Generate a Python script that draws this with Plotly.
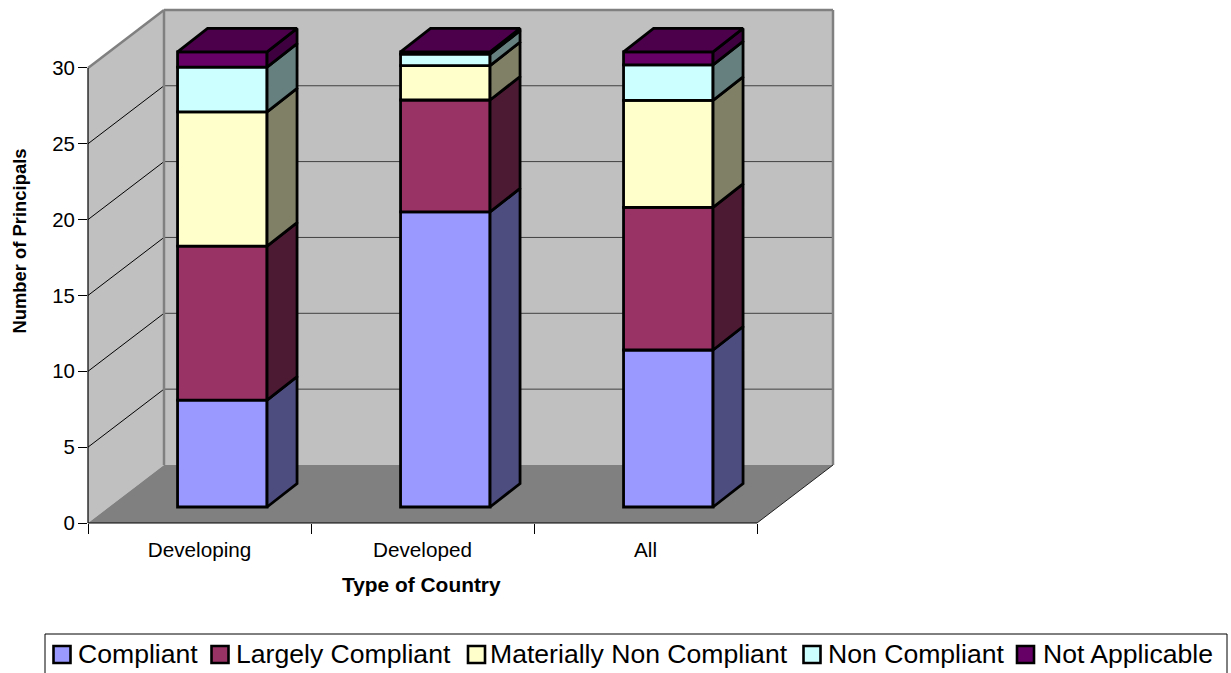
import plotly.graph_objects as go

# ---- data ----
categories = ["Developing", "Developed", "All"]
compliant = [7.05, 19.45, 10.35]
largely_compliant = [10.15, 7.38, 9.4]
materially_non_compliant = [8.85, 2.27, 7.05]
non_compliant = [2.95, 0.75, 2.35]
not_applicable = [1.0, 0.15, 0.85]
y_ticks = [0, 5, 10, 15, 20, 25, 30]

series_names = ["Compliant", "Largely Compliant", "Materially Non Compliant", "Non Compliant", "Not Applicable"]
series_values = [compliant, largely_compliant, materially_non_compliant, non_compliant, not_applicable]
front_colors = ["#9999FF", "#993366", "#FFFFCC", "#CCFFFF", "#660066"]
side_colors = ["#4D4D80", "#4D1A33", "#808066", "#668080", "#3F003F"]
top_color = "#4C004C"

# ---- geometry ----
W, H = 1231, 673
L, R, T, B = 88, 833, 10, 523     # plot box in pixels
UNIT_Y = 15.17                    # pixels per value unit
UNIT_X = 223.0                    # pixels per category
X0 = -0.5
x_range = [X0, X0 + (R - L) / UNIT_X]
y_range = [0, (B - T) / UNIT_Y]
WALL_DX, WALL_DY = 76 / UNIT_X, 58 / UNIT_Y
BAR_DX, BAR_DY = 30 / UNIT_X, 23.5 / UNIT_Y
BAR_W = 89.5 / UNIT_X
BAR_SHIFT = 22.8 / UNIT_X
BAR_LIFT = 16 / UNIT_Y
n_cat = len(categories)
FRONT_R = X0 + n_cat


def fx(v):
    return (v - x_range[0]) / (x_range[1] - x_range[0])


def fy(v):
    return (v - y_range[0]) / (y_range[1] - y_range[0])


def px(p):
    return (p - L) / (R - L)


def py(p):
    return (B - p) / (B - T)


def poly(points, fill=None, line=None, width=0, layer="below"):
    path = "M" + "L".join(f"{fx(a):.5f},{fy(b):.5f}" for a, b in points) + "Z"
    return dict(type="path", xref="paper", yref="paper", path=path, layer=layer,
                fillcolor=fill or "rgba(0,0,0,0)", line=dict(color=line or "rgba(0,0,0,0)", width=width))


def seg(a, b, c, d, color, width, layer="below"):
    return dict(type="line", xref="paper", yref="paper", x0=fx(a), y0=fy(b), x1=fx(c), y1=fy(d),
                layer=layer, line=dict(color=color, width=width))


top_val = y_ticks[-1]
shapes = [
    poly([(X0, 0), (X0 + WALL_DX, WALL_DY), (X0 + WALL_DX, top_val + WALL_DY), (X0, top_val)], fill="#C0C0C0"),
    poly([(X0 + WALL_DX, WALL_DY), (FRONT_R + WALL_DX, WALL_DY), (FRONT_R + WALL_DX, top_val + WALL_DY),
          (X0 + WALL_DX, top_val + WALL_DY)], fill="#C0C0C0"),
    poly([(X0, 0), (FRONT_R, 0), (FRONT_R + WALL_DX, WALL_DY), (X0 + WALL_DX, WALL_DY)], fill="#808080"),
]
for t in y_ticks[1:-1]:
    shapes.append(seg(X0, t, X0 + WALL_DX, t + WALL_DY, "#000000", 1))
    shapes.append(seg(X0 + WALL_DX, t + WALL_DY, FRONT_R + WALL_DX, t + WALL_DY, "#404040", 1))
GRAY = "#808080"
shapes += [
    seg(X0, top_val, X0 + WALL_DX, top_val + WALL_DY, GRAY, 2.5),
    seg(X0 + WALL_DX, WALL_DY, X0 + WALL_DX, top_val + WALL_DY, GRAY, 2.5),
    seg(X0 + WALL_DX, top_val + WALL_DY, FRONT_R + WALL_DX, top_val + WALL_DY, GRAY, 2.5),
    seg(FRONT_R + WALL_DX, WALL_DY, FRONT_R + WALL_DX, top_val + WALL_DY, GRAY, 2.5),
    seg(FRONT_R, 0, FRONT_R + WALL_DX, WALL_DY, "#202020", 1),
    seg(X0, 0, X0, top_val, "#000000", 1.2, "above"),
    seg(X0, 0, FRONT_R, 0, "#000000", 1.2, "above"),
]

fig = go.Figure()
OUT = "#000000"
LW = 2.8

bases = [BAR_LIFT] * n_cat
for name, vals, fc, sc in zip(series_names, series_values, front_colors, side_colors):
    fig.add_trace(go.Bar(
        x=[i + BAR_SHIFT for i in range(n_cat)], y=vals, base=bases, width=BAR_W, name=name,
        marker=dict(color=fc, line=dict(color=OUT, width=LW)), showlegend=False, hoverinfo="name+y",
    ))
    sx, sy = [], []
    for i in range(n_cat):
        xr = i + BAR_SHIFT + BAR_W / 2
        b0, b1 = bases[i], bases[i] + vals[i]
        sx += [xr, xr + BAR_DX, xr + BAR_DX, xr, xr, None]
        sy += [b0, b0 + BAR_DY, b1 + BAR_DY, b1, b0, None]
    fig.add_trace(go.Scatter(x=sx, y=sy, mode="lines", fill="toself", fillcolor=sc,
                             line=dict(color=OUT, width=LW), showlegend=False, hoverinfo="skip"))
    bases = [b + v for b, v in zip(bases, vals)]

tx, ty = [], []
for i in range(n_cat):
    xl = i + BAR_SHIFT - BAR_W / 2
    xr = xl + BAR_W
    t0 = bases[i]
    tx += [xl, xl + BAR_DX, xr + BAR_DX, xr, xl, None]
    ty += [t0, t0 + BAR_DY, t0 + BAR_DY, t0, t0, None]
fig.add_trace(go.Scatter(x=tx, y=ty, mode="lines", fill="toself", fillcolor=top_color,
                         line=dict(color=OUT, width=LW), showlegend=False, hoverinfo="skip"))

# legend drawn to the reference's tight key/label spacing
FONT = "Liberation Sans, Arial, sans-serif"
annotations = [
    dict(text="<b>Type of Country</b>", xref="paper", yref="paper", x=px(421.5), y=py(585), showarrow=False,
         font=dict(family=FONT, size=20.9, color="#000000"), xanchor="center", yanchor="middle"),
    dict(text="<b>Number of Principals</b>", xref="paper", yref="paper", x=px(18.5), y=py(241), showarrow=False,
         textangle=-90, font=dict(family=FONT, size=18.4, color="#000000"), xanchor="center", yanchor="middle"),
]
shapes.append(dict(type="rect", xref="paper", yref="paper", x0=px(45), x1=px(1227), y0=py(634), y1=py(700),
                   fillcolor="#FFFFFF", line=dict(color="#000000", width=1), layer="above"))
key_left = [53.5, 211.5, 468, 803.5, 1017]
label_left = [78, 236, 490, 828, 1043]
for name, fc, kx, lx in zip(series_names, front_colors, key_left, label_left):
    shapes.append(dict(type="rect", xref="paper", yref="paper", x0=px(kx), x1=px(kx + 17), y0=py(646), y1=py(663),
                       fillcolor=fc, line=dict(color="#000000", width=2.6), layer="above"))
    annotations.append(dict(text=name, xref="paper", yref="paper", x=px(lx), y=py(654), showarrow=False,
                            xanchor="left", yanchor="middle", xshift=-2,
                            font=dict(family=FONT, size=26.6, color="#000000")))

fig.update_layout(
    width=W, height=H, autosize=False, barmode="overlay", showlegend=False,
    margin=dict(l=L, r=W - R, t=T, b=H - B, pad=0),
    paper_bgcolor="#FFFFFF", plot_bgcolor="rgba(0,0,0,0)",
    font=dict(family=FONT, size=20, color="#000000"),
    shapes=shapes, annotations=annotations,
    xaxis=dict(range=x_range, tickmode="array", tickvals=list(range(n_cat)), ticktext=categories,
               showgrid=False, zeroline=False, showline=False, ticks="outside", ticklen=3,
               tickcolor="rgba(0,0,0,0)", tickfont=dict(size=20.7),
               ticklabelstandoff=5,
               minor=dict(tickmode="array", tickvals=[i - 0.5 for i in range(n_cat + 1)], ticks="outside",
                          ticklen=10, tickcolor="#000000", tickwidth=1, showgrid=False)),
    yaxis=dict(range=y_range, tickmode="array", tickvals=y_ticks, showgrid=False, zeroline=False, showline=False,
               ticks="outside", ticklen=9, tickcolor="#000000", tickwidth=1, tickfont=dict(size=20.4),
               ticklabelstandoff=-1),
)

fig.write_html("out.html", config=dict(displayModeBar=False),
               post_script="document.body.style.margin='0';document.body.style.overflow='hidden';")
